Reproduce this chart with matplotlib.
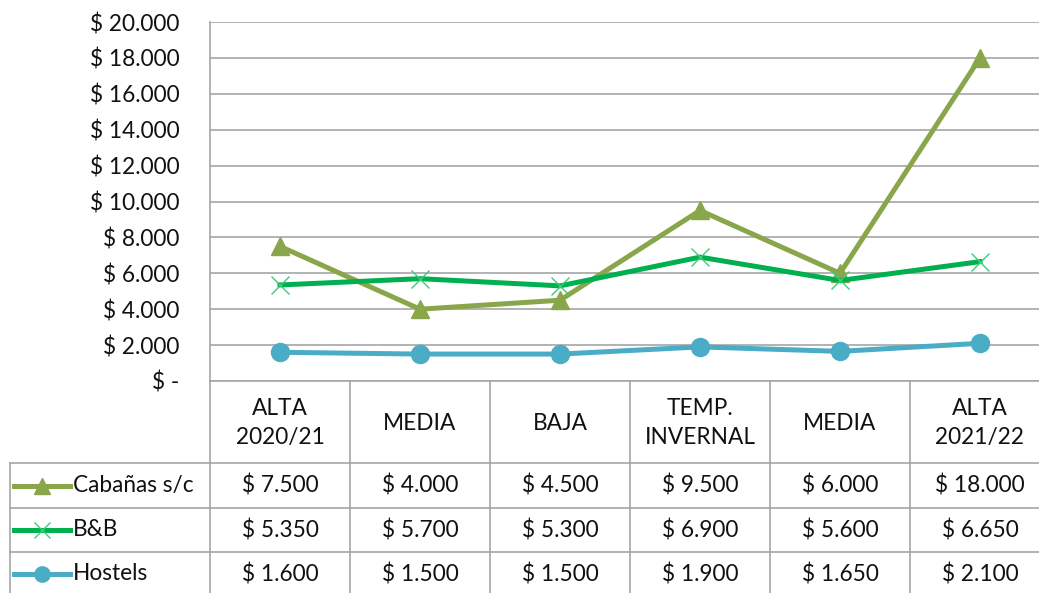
import matplotlib
matplotlib.use("Agg")
import matplotlib.pyplot as plt
from matplotlib.transforms import blended_transform_factory
from matplotlib.lines import Line2D

categories = ["ALTA\n2020/21", "MEDIA", "BAJA", "TEMP.\nINVERNAL", "MEDIA", "ALTA\n2021/22"]
series_names = ["Cabañas s/c", "B&B", "Hostels"]
cabanas = [7500, 4000, 4500, 9500, 6000, 18000]
bnb = [5350, 5700, 5300, 6900, 5600, 6650]
hostels = [1600, 1500, 1500, 1900, 1650, 2100]
yticks = [0, 2000, 4000, 6000, 8000, 10000, 12000, 14000, 16000, 18000, 20000]

plt.rcParams['font.family'] = ['Lato', 'DejaVu Sans']
FS = 16.3
TXT = "#111111"

W, H = 1039, 593
fig = plt.figure(figsize=(W / 100, H / 100), dpi=100)
fig.patch.set_facecolor("white")

def fx(px):
    return px / W

def fy(py):
    return 1 - py / H

left_px, right_px, top_px, bot_px = 210, 1050, 22, 381
ax = fig.add_axes([fx(left_px), fy(bot_px), fx(right_px - left_px), (bot_px - top_px) / H])

grid_c = "#A6A6A6"
colors = ["#8AA64A", "#00B050", "#4BACC6"]
markers = [
    dict(marker="^", ms=13, mfc="#8AA64A", mec="#8AA64A", mew=1),
    dict(marker="x", ms=13, mfc="none", mec="#3CCB7A", mew=1.0),
    dict(marker="o", ms=13, mfc="#4BACC6", mec="#4BACC6", mew=1),
]
data = [cabanas, bnb, hostels]
xs = list(range(len(categories)))
for vals, c, mk in zip(data, colors, markers):
    ax.plot(xs, vals, color=c, lw=3.6, zorder=3, clip_on=False, **mk)

ax.set_xlim(-0.5, len(categories) - 0.5)
ax.set_ylim(0, 20000)
ax.set_yticks(yticks)

def fmt(v):
    if v == 0:
        return "$ -"
    return "$ " + f"{v:,}".replace(",", ".")

ax.set_yticklabels([fmt(v) for v in yticks], fontsize=FS, color=TXT)
ax.tick_params(axis="y", length=0, pad=22)
ax.set_xticks([])
ax.grid(axis="y", color=grid_c, lw=1.2)
ax.set_axisbelow(True)
for s in ["top", "right", "bottom"]:
    ax.spines[s].set_visible(False)
ax.spines["left"].set_color(grid_c)
ax.spines["left"].set_linewidth(1.2)

# Data table
tr = blended_transform_factory(ax.transData, fig.transFigure)
row_edges = [381, 463, 508, 552, 596]
tab_left = 10

def hline(py, x0px, x1px):
    fig.add_artist(Line2D([fx(x0px), fx(x1px)], [fy(py), fy(py)], color=grid_c, lw=1.2))

def vline_fig(px, y0, y1):
    fig.add_artist(Line2D([fx(px), fx(px)], [fy(y0), fy(y1)], color=grid_c, lw=1.2))

hline(381, left_px, W + 20)
for py in row_edges[1:4]:
    hline(py, tab_left, W + 20)
vline_fig(tab_left, 463, 596)
vline_fig(left_px, 381, 596)
for i in range(1, len(categories) + 1):
    fig.add_artist(Line2D([i - 0.5, i - 0.5], [fy(381), fy(596)], color=grid_c, lw=1.2, transform=tr))

for i, c in enumerate(categories):
    fig.text(i, fy((381 + 463) / 2 + 1), c, transform=tr, ha="center", va="center",
             fontsize=FS, color=TXT, linespacing=1.45)

for r, (name, vals, c, mk) in enumerate(zip(series_names, data, colors, markers)):
    yc = (row_edges[r + 1] + row_edges[r + 2]) / 2
    for i, v in enumerate(vals):
        fig.text(i, fy(yc), fmt(v), transform=tr, ha="center", va="center",
                 fontsize=FS, color=TXT)
    fig.add_artist(Line2D([fx(14), fx(70)], [fy(yc), fy(yc)], lw=3.6, color=c))
    mk2 = dict(mk)
    mk2["ms"] = 11
    fig.add_artist(Line2D([fx(42)], [fy(yc)], lw=0, **mk2))
    fig.text(fx(73), fy(yc), name, ha="left", va="center", fontsize=FS, color=TXT)

fig.savefig("out.png", dpi=100, facecolor="white")
